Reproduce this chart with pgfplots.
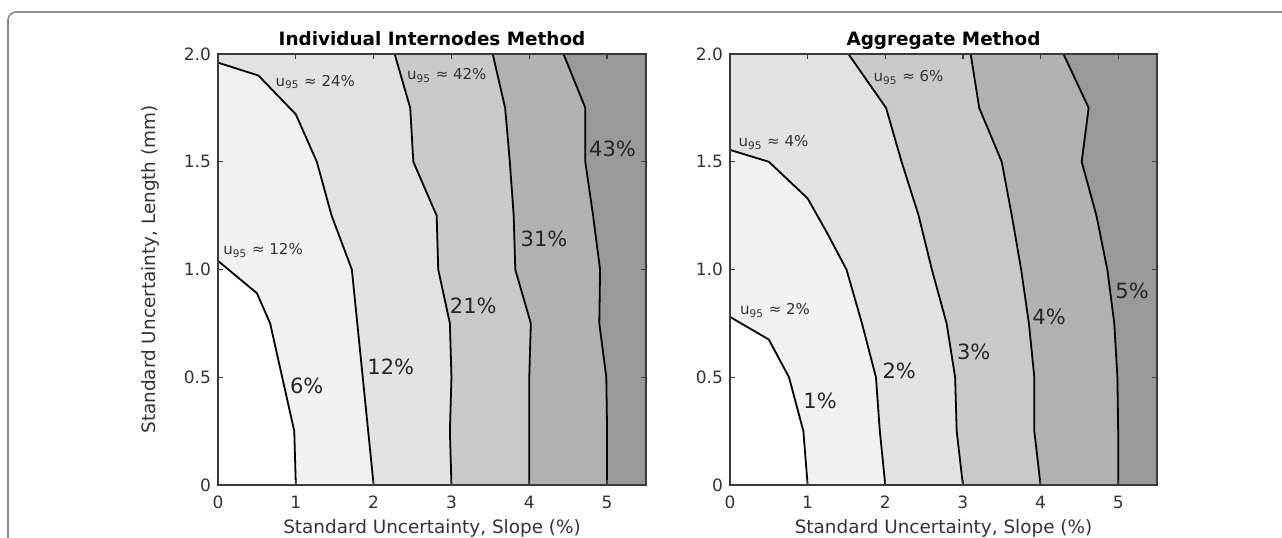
\documentclass[border=0pt]{standalone}
\usepackage{pgfplots}
\pgfplotsset{compat=1.18}
\usepackage{fontspec}
\setmainfont{DejaVu Sans}
\definecolor{g1}{HTML}{F1F1F1}
\definecolor{g2}{HTML}{E2E2E2}
\definecolor{g3}{HTML}{C9C9C9}
\definecolor{g4}{HTML}{B1B1B1}
\definecolor{g5}{HTML}{999999}
\definecolor{axc}{HTML}{3A3A3A}
\tikzset{
  lblsmall/.style={font=\fontsize{7.5}{9}\selectfont, text=black!80},
  lblbig/.style={font=\fontsize{10.5}{12}\selectfont, text=black!85},
}
\pgfplotsset{
  panel/.style={
    scale only axis, height=215.5pt,
    xmin=0, xmax=5.5, ymin=0, ymax=2,
    xtick={0,1,2,3,4,5},
    ytick={0,0.5,1,1.5,2},
    yticklabels={0,0.5,1.0,1.5,2.0},
    tick align=inside, major tick length=2.5pt,
    tick style={axc, line width=0.6pt},
    axis line style={axc, line width=0.7pt},
    axis on top,
    axis background/.style={fill=g5},
    /pgf/number format/assume math mode=true,
    ticklabel style={font=\fontsize{8.5}{10}\selectfont, text=black!80},
    xticklabel style={anchor=base, yshift=-11.5pt},
    label style={font=\fontsize{9.2}{11}\selectfont, text=black!80},
    title style={font=\fontsize{9.2}{11}\selectfont\bfseries, at={(axis description cs:0.5,1)}, anchor=base, yshift=-2pt},
    xlabel={Standard Uncertainty, Slope (\%)},
    xlabel style={at={(axis description cs:0.5,-0.1114)}, anchor=base},
  },
  cl/.style={black, line width=0.9pt, mark=none},
}
\begin{document}
\begin{tikzpicture}
\useasboundingbox (0,0) rectangle (641pt,268.5pt);
\fill[white] (0,0) rectangle (641pt,268.5pt);
\draw[black!45, line width=0.8pt, rounded corners=4pt] (4pt,-20pt) -- (4pt,262.5pt) -- (700pt,262.5pt);

% ---------------- Left panel ----------------
\begin{axis}[panel, width=214pt, at={(109pt,26pt)}, anchor=south west,
  title={Individual Internodes Method},
  ylabel={Standard Uncertainty, Length (mm)},
  ylabel style={at={(axis description cs:-0.159,0.5)}, anchor=center}]
\addplot[fill=g4, draw=none] coordinates {(0,0) (0,2) (4.44,2.0) (4.72,1.75) (4.72,1.5) (4.82,1.25) (4.91,1.0) (4.90,0.75) (4.99,0.5) (5.0,0.25) (5.0,0)};
\addplot[fill=g3, draw=none] coordinates {(0,0) (0,2) (3.53,2.0) (3.69,1.75) (3.75,1.5) (3.80,1.25) (3.82,1.0) (4.02,0.75) (4.0,0.5) (4.0,0.25) (4.0,0)};
\addplot[fill=g2, draw=none] coordinates {(0,0) (0,2) (2.27,2.0) (2.47,1.75) (2.51,1.50) (2.81,1.25) (2.83,1.0) (2.98,0.75) (3.0,0.5) (2.98,0.25) (3.0,0)};
\addplot[fill=g1, draw=none] coordinates {(0,0) (0,1.96) (0.52,1.90) (1.0,1.72) (1.27,1.50) (1.46,1.25) (1.72,1.0) (1.86,0.5) (2.0,0)};
\addplot[fill=white, draw=none] coordinates {(0,0) (0,1.04) (0.50,0.89) (0.67,0.75) (0.98,0.25) (1.0,0)};
\addplot[cl] coordinates {(0,1.04) (0.50,0.89) (0.67,0.75) (0.98,0.25) (1.0,0)};
\addplot[cl] coordinates {(0,1.96) (0.52,1.90) (1.0,1.72) (1.27,1.50) (1.46,1.25) (1.72,1.0) (1.86,0.5) (2.0,0)};
\addplot[cl] coordinates {(2.27,2.0) (2.47,1.75) (2.51,1.50) (2.81,1.25) (2.83,1.0) (2.98,0.75) (3.0,0.5) (2.98,0.25) (3.0,0)};
\addplot[cl] coordinates {(3.53,2.0) (3.69,1.75) (3.75,1.5) (3.80,1.25) (3.82,1.0) (4.02,0.75) (4.0,0.5) (4.0,0.25) (4.0,0)};
\addplot[cl] coordinates {(4.44,2.0) (4.72,1.75) (4.72,1.5) (4.82,1.25) (4.91,1.0) (4.90,0.75) (4.99,0.5) (5.0,0.25) (5.0,0)};
\node[lblsmall] at (axis cs:1.25,1.87) {u\textsubscript{95} ≈ 24\%};
\node[lblsmall] at (axis cs:2.94,1.90) {u\textsubscript{95} ≈ 42\%};
\node[lblsmall] at (axis cs:0.58,1.09) {u\textsubscript{95} ≈ 12\%};
\node[lblbig] at (axis cs:5.07,1.56) {43\%};
\node[lblbig] at (axis cs:4.19,1.14) {31\%};
\node[lblbig] at (axis cs:3.28,0.83) {21\%};
\node[lblbig] at (axis cs:2.22,0.55) {12\%};
\node[lblbig] at (axis cs:1.14,0.46) {6\%};
\end{axis}

% ---------------- Right panel ----------------
\begin{axis}[panel, width=213.5pt, at={(365pt,26pt)}, anchor=south west,
  title={Aggregate Method}]
\addplot[fill=g4, draw=none] coordinates {(0,0) (0,2) (4.295,2.0) (4.62,1.75) (4.53,1.5) (4.72,1.25) (4.86,1.0) (4.95,0.75) (4.99,0.5) (5.0,0.25) (5.0,0)};
\addplot[fill=g3, draw=none] coordinates {(0,0) (0,2) (3.10,2.0) (3.21,1.75) (3.50,1.5) (3.63,1.25) (3.75,1.0) (3.85,0.75) (3.92,0.5) (3.92,0.25) (4.0,0)};
\addplot[fill=g2, draw=none] coordinates {(0,0) (0,2) (1.525,2.0) (2.01,1.75) (2.21,1.5) (2.43,1.25) (2.60,1.0) (2.79,0.75) (2.90,0.5) (2.92,0.25) (3.0,0)};
\addplot[fill=g1, draw=none] coordinates {(0,0) (0,1.555) (0.50,1.50) (1.0,1.33) (1.25,1.17) (1.50,1.0) (1.70,0.75) (1.88,0.50) (1.93,0.25) (2.0,0)};
\addplot[fill=white, draw=none] coordinates {(0,0) (0,0.78) (0.50,0.675) (0.76,0.50) (0.945,0.25) (1.0,0)};
\addplot[cl] coordinates {(0,0.78) (0.50,0.675) (0.76,0.50) (0.945,0.25) (1.0,0)};
\addplot[cl] coordinates {(0,1.555) (0.50,1.50) (1.0,1.33) (1.25,1.17) (1.50,1.0) (1.70,0.75) (1.88,0.50) (1.93,0.25) (2.0,0)};
\addplot[cl] coordinates {(1.525,2.0) (2.01,1.75) (2.21,1.5) (2.43,1.25) (2.60,1.0) (2.79,0.75) (2.90,0.5) (2.92,0.25) (3.0,0)};
\addplot[cl] coordinates {(3.10,2.0) (3.21,1.75) (3.50,1.5) (3.63,1.25) (3.75,1.0) (3.85,0.75) (3.92,0.5) (3.92,0.25) (4.0,0)};
\addplot[cl] coordinates {(4.295,2.0) (4.62,1.75) (4.53,1.5) (4.72,1.25) (4.86,1.0) (4.95,0.75) (4.99,0.5) (5.0,0.25) (5.0,0)};
\node[lblsmall] at (axis cs:2.30,1.89) {u\textsubscript{95} ≈ 6\%};
\node[lblsmall] at (axis cs:0.56,1.59) {u\textsubscript{95} ≈ 4\%};
\node[lblsmall] at (axis cs:0.58,0.81) {u\textsubscript{95} ≈ 2\%};
\node[lblbig] at (axis cs:1.16,0.39) {1\%};
\node[lblbig] at (axis cs:2.18,0.53) {2\%};
\node[lblbig] at (axis cs:3.14,0.62) {3\%};
\node[lblbig] at (axis cs:4.11,0.78) {4\%};
\node[lblbig] at (axis cs:5.18,0.90) {5\%};
\end{axis}
\end{tikzpicture}
\end{document}
